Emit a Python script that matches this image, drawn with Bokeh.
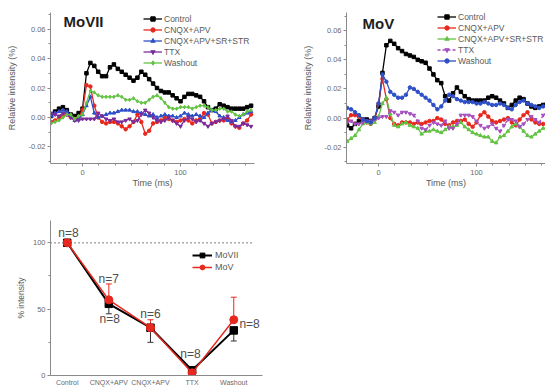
from bokeh.plotting import figure
from bokeh.models import (Legend, LegendItem, Label, Whisker, ColumnDataSource,
                          SingleIntervalTicker, FixedTicker, PrintfTickFormatter, Range1d, TeeHead)
from bokeh.layouts import row, column
from bokeh.embed import file_html
from bokeh.resources import INLINE

FONT = "Liberation Sans"

# ---------------- data ----------------
time_ms = [-32, -28, -24, -20, -16, -12, -8, -4, 0, 4, 8, 12, 16,
           20, 24, 28, 32, 36, 40, 44, 48, 52, 56, 60, 64, 68,
           72, 76, 80, 84, 88, 92, 96, 100, 104, 108, 112, 116, 120,
           124, 128, 132, 136, 140, 144, 148, 152, 156, 160, 164, 168, 172]

movii_control = [0.001, 0.004, 0.006, 0.007, 0.005, 0.002, 0.001, 0.003, 0.006, 0.030, 0.037, 0.035, 0.031,
                 0.028, 0.028, 0.034, 0.036, 0.033, 0.031, 0.029, 0.027, 0.025, 0.027, 0.031, 0.029, 0.026,
                 0.023, 0.020, 0.018, 0.017, 0.017, 0.015, 0.013, 0.011, 0.014, 0.016, 0.016, 0.015, 0.014,
                 0.011, 0.007, 0.005, 0.006, 0.009, 0.008, 0.007, 0.006, 0.006, 0.006, 0.006, 0.007, 0.008]
movii_cnqx = [-0.003, -0.002, 0.000, 0.001, 0.002, 0.000, -0.001, 0.000, 0.005, 0.022, 0.021, 0.008, 0.000,
              -0.003, -0.004, -0.003, -0.003, -0.004, -0.006, -0.008, -0.006, -0.003, 0.002, -0.003, -0.011, -0.009,
              -0.004, -0.003, -0.002, 0.000, -0.001, -0.002, -0.003, -0.002, -0.001, -0.002, -0.004, -0.002, -0.001,
              0.003, 0.002, -0.004, -0.003, -0.002, -0.002, -0.001, -0.004, -0.006, -0.007, -0.004, -0.002, 0.002]
movii_cnqx_sr = [0.001, 0.003, 0.004, 0.005, 0.004, 0.001, -0.002, -0.001, 0.002, 0.008, 0.014, 0.003, 0.000,
                 0.001, 0.002, 0.003, 0.003, 0.004, 0.005, 0.005, 0.005, 0.004, 0.004, 0.003, 0.002, 0.001,
                 0.002, 0.000, 0.001, 0.002, 0.001, 0.001, 0.000, 0.001, 0.003, 0.002, 0.001, 0.002, 0.001,
                 0.000, 0.003, 0.005, 0.004, 0.001, 0.000, -0.002, -0.003, -0.002, 0.000, 0.002, 0.003, 0.004]
movii_ttx = [0.003, 0.002, 0.001, 0.003, 0.002, 0.000, -0.002, -0.002, -0.001, -0.001, -0.001, -0.001, 0.003,
             0.001, -0.001, -0.002, -0.001, -0.003, -0.003, -0.002, -0.001, -0.003, -0.002, 0.002, 0.005, 0.003,
             0.000, -0.002, -0.003, -0.002, 0.000, -0.002, -0.004, -0.006, -0.002, 0.000, -0.001, -0.003, -0.002,
             -0.004, -0.006, -0.004, -0.003, -0.002, -0.001, 0.001, -0.002, -0.006, -0.006, -0.004, -0.005, -0.006]
movii_washout = [-0.004, -0.003, -0.002, 0.000, 0.002, 0.002, -0.001, 0.001, 0.002, 0.010, 0.018, 0.017, 0.015,
                 0.014, 0.014, 0.014, 0.014, 0.015, 0.014, 0.012, 0.012, 0.013, 0.011, 0.010, 0.010, 0.012,
                 0.014, 0.015, 0.013, 0.010, 0.007, 0.006, 0.006, 0.007, 0.007, 0.007, 0.006, 0.007, 0.008,
                 0.008, 0.007, 0.005, 0.005, 0.006, 0.006, 0.004, 0.004, 0.002, 0.001, 0.002, 0.004, 0.005]

mov_control = [-0.005, -0.007, -0.004, -0.002, -0.001, -0.001, -0.002, 0.000, 0.008, 0.031, 0.050, 0.053, 0.051,
               0.048, 0.046, 0.044, 0.043, 0.042, 0.040, 0.039, 0.038, 0.034, 0.030, 0.026, 0.024, 0.015,
               0.012, 0.017, 0.021, 0.018, 0.015, 0.013, 0.012, 0.012, 0.012, 0.012, 0.014, 0.015, 0.014,
               0.012, 0.010, 0.007, 0.009, 0.012, 0.014, 0.013, 0.010, 0.008, 0.007, 0.008, 0.009, 0.010]
mov_cnqx = [-0.001, 0.002, 0.002, 0.001, -0.001, -0.003, -0.004, -0.001, 0.010, 0.027, 0.013, 0.000, -0.004,
            -0.005, -0.003, -0.003, -0.003, -0.004, -0.003, -0.004, -0.003, -0.002, -0.002, 0.000, -0.001, -0.004,
            -0.005, -0.003, -0.002, -0.002, -0.001, -0.004, -0.006, -0.003, 0.002, 0.004, 0.001, -0.002, -0.003,
            -0.002, -0.001, 0.000, -0.003, -0.005, -0.001, 0.002, 0.004, -0.001, -0.003, -0.004, -0.004, -0.005]
mov_cnqx_sr = [-0.016, -0.014, -0.012, -0.008, -0.004, -0.003, -0.004, -0.003, 0.001, 0.010, 0.014, 0.003, -0.005,
               -0.006, -0.004, -0.003, -0.005, -0.006, -0.007, -0.011, -0.009, -0.009, -0.008, -0.009, -0.010, -0.008,
               -0.006, -0.006, -0.005, -0.003, -0.006, -0.008, -0.010, -0.011, -0.012, -0.013, -0.013, -0.016, -0.017,
               -0.013, -0.012, -0.009, -0.006, -0.004, -0.006, -0.009, -0.012, -0.013, -0.011, -0.009, -0.007, -0.007]
mov_ttx = [-0.003, -0.002, -0.004, -0.004, -0.003, -0.002, -0.002, -0.001, 0.000, 0.001, 0.001, 0.005, 0.004,
           0.002, 0.004, 0.004, 0.003, 0.002, -0.002, -0.007, -0.008, -0.005, -0.003, -0.004, -0.005, -0.002,
           -0.007, -0.007, -0.004, 0.002, 0.002, 0.002, 0.001, -0.002, -0.005, -0.007, -0.006, -0.004, -0.007,
           -0.009, -0.005, -0.001, -0.001, -0.002, -0.006, -0.004, -0.001, 0.001, -0.001, -0.003, 0.002, 0.004]
mov_washout = [0.007, 0.006, 0.004, 0.002, -0.001, -0.002, -0.003, 0.000, 0.010, 0.030, 0.025, 0.018, 0.016,
               0.014, 0.014, 0.016, 0.021, 0.020, 0.018, 0.016, 0.014, 0.012, 0.009, 0.006, 0.008, 0.012,
               0.016, 0.015, 0.013, 0.012, 0.011, 0.011, 0.011, 0.010, 0.010, 0.011, 0.010, 0.009, 0.009,
               0.010, 0.009, 0.007, 0.006, 0.009, 0.011, 0.012, 0.010, 0.009, 0.008, 0.007, 0.008, 0.009]

# summary panel
conditions = ["Control", "CNQX+APV", "CNQX+APV", "TTX", "Washout"]
cond_idx = [0, 1, 2, 3, 4]
movii_pct = [100, 54, 36, 4, 34]
movii_err = [0, 7.5, 11, 1, 8]
mov_pct = [100, 57, 36, 2, 42]
mov_err = [0, 12, 6, 1, 17]
ref_level = 100
n_labels = ["n=8", "n=7", "n=8", "n=6", "n=8", "n=8"]

# ---------------- styling helpers ----------------
AX = "#8a8a8a"
TXT = "#5a5a5a"
RED = "#e8281e"
BLUE = "#2d4fc8"
GREEN = "#62c342"
PURPLE = "#7a2c9c"
PINK = "#a54fc0"


def style_axes(p, tick_size="7.5px", label_size="9px"):
    for ax in (p.xaxis[0], p.yaxis[0]):
        ax.axis_line_color = AX
        ax.major_tick_line_color = AX
        ax.minor_tick_line_color = AX
        ax.major_label_text_font = FONT
        ax.major_label_text_font_size = tick_size
        ax.major_label_text_color = "#6a6a6a"
        ax.axis_label_text_font = FONT
        ax.axis_label_text_font_size = label_size
        ax.axis_label_text_font_style = "normal"
        ax.axis_label_text_color = TXT
        ax.major_tick_in = 0
        ax.major_tick_out = 3
        ax.minor_tick_in = 0
        ax.minor_tick_out = 2
    p.xgrid.visible = False
    p.ygrid.visible = False
    p.outline_line_color = None
    p.background_fill_color = "white"
    p.border_fill_color = "white"


def trace_panel(width, x_end, y_end, border_left, border_right, border_top,
                series, title, legend_pos):
    p = figure(width=width, height=200, output_backend="svg", toolbar_location=None,
               x_range=Range1d(-32.7, x_end), y_range=Range1d(-0.0312, y_end),
               min_border_left=border_left, min_border_right=border_right,
               min_border_top=border_top, min_border_bottom=37)
    p.xaxis.axis_label = "Time (ms)"
    p.yaxis.axis_label = "Relative intensity (%)"
    p.xaxis.ticker = SingleIntervalTicker(interval=100, num_minor_ticks=6)
    p.yaxis.ticker = SingleIntervalTicker(interval=0.02, num_minor_ticks=2)
    p.yaxis.formatter = PrintfTickFormatter(format="%.2f")
    style_axes(p)
    p.xaxis.major_label_standoff = 3
    p.xaxis.axis_label_standoff = 0
    p.yaxis.major_label_standoff = 2
    p.yaxis.axis_label_standoff = 8
    items = []
    for name, vals, color, marker, dash in series:
        ln = p.line(time_ms, vals, line_color=color, line_width=1.3, line_dash=dash)
        sc = p.scatter(time_ms, vals, marker=marker, size=3.5, fill_color=color, line_color=color)
        items.append(LegendItem(label=name, renderers=[ln, sc]))
    leg = Legend(items=items, location=legend_pos, padding=0, margin=0, spacing=0,
                 glyph_width=19, glyph_height=11, label_height=11, label_standoff=2,
                 label_text_font=FONT, label_text_font_size="8.5px", label_text_color=TXT,
                 border_line_color=None, background_fill_alpha=0)
    p.add_layout(leg, "center")
    p.add_layout(Label(x=title[1], y=0.0651, text=title[0], text_font=FONT, text_font_size="15px",
                       text_font_style="bold", text_color="#1e1e1e", text_baseline="middle",
                       text_align="left"))
    return p


p1 = trace_panel(270, 175.5, 0.0712, 50, 16, 12, [
    ("Control", movii_control, "black", "square", "solid"),
    ("CNQX+APV", movii_cnqx, RED, "circle", "solid"),
    ("CNQX+APV+SR+STR", movii_cnqx_sr, BLUE, "triangle", "solid"),
    ("TTX", movii_ttx, PURPLE, "inverted_triangle", "solid"),
    ("Washout", movii_washout, GREEN, "diamond", "solid"),
], ("MoVII", -19.4), (93, 95))

p2 = trace_panel(275, 170.4, 0.0725, 76, 0, 10, [
    ("Control", mov_control, "black", "square", "solid"),
    ("CNQX+APV", mov_cnqx, RED, "circle", "solid"),
    ("CNQX+APV+SR+STR", mov_cnqx_sr, GREEN, "triangle", "solid"),
    ("TTX", mov_ttx, PINK, "inverted_triangle", "3 2"),
    ("Washout", mov_washout, BLUE, "circle", "solid"),
], ("MoV", -16.3), (91, 97))

# ---------------- summary panel ----------------
x3_start, x3_end = -0.401, 4.69
p3 = figure(width=278, height=191, output_backend="svg", toolbar_location=None,
            x_range=Range1d(x3_start, x3_end), y_range=Range1d(0, 116.8),
            min_border_left=50, min_border_right=16, min_border_top=20, min_border_bottom=16)
style_axes(p3, tick_size="7.5px", label_size="8.5px")
p3.yaxis.axis_label = "% intensity"
p3.yaxis.ticker = SingleIntervalTicker(interval=50, num_minor_ticks=2)
p3.xaxis.ticker = FixedTicker(ticks=cond_idx)
p3.xaxis.major_label_overrides = {i: c for i, c in zip(cond_idx, conditions)}
p3.xaxis.major_label_text_font_size = "7px"
p3.xaxis.major_tick_out = 0
p3.xaxis.major_label_standoff = 3
p3.xaxis.minor_tick_line_color = None
p3.yaxis.major_label_standoff = 2
p3.yaxis.axis_label_standoff = 4

# dotted 100 % reference line, ending where the original axis ends
p3.line([x3_start, 4.473], [ref_level, ref_level], line_color="#333333", line_dash="1 3", line_width=1.2)

src_b = ColumnDataSource(dict(x=cond_idx, up=movii_pct,
                              lo=[v - e for v, e in zip(movii_pct, movii_err)]))
src_r = ColumnDataSource(dict(x=cond_idx, lo=mov_pct,
                              up=[v + e for v, e in zip(mov_pct, mov_err)]))
wb = Whisker(source=src_b, base="x", upper="up", lower="lo", line_color="#333333", line_width=1,
             upper_head=None, lower_head=TeeHead(size=6, line_color="#333333", line_width=1))
wr = Whisker(source=src_r, base="x", upper="up", lower="lo", line_color=RED, line_width=1,
             lower_head=None, upper_head=TeeHead(size=6, line_color=RED, line_width=1))
p3.add_layout(wb)
p3.add_layout(wr)

lb = p3.line(cond_idx, movii_pct, line_color="black", line_width=2)
sb = p3.scatter(cond_idx, movii_pct, marker="square", size=7.5, fill_color="black", line_color="black")
lr = p3.line(cond_idx, mov_pct, line_color=RED, line_width=1.5)
sr = p3.scatter(cond_idx, mov_pct, marker="circle", size=8, fill_color=RED, line_color=RED)

leg3 = Legend(items=[LegendItem(label="MoVII", renderers=[lb, sb]),
                     LegendItem(label="MoV", renderers=[lr, sr])],
              location=(142, 102), padding=0, margin=0, spacing=0,
              glyph_width=20, glyph_height=12, label_height=12, label_standoff=3,
              label_text_font=FONT, label_text_font_size="9px", label_text_color=TXT,
              border_line_color=None, background_fill_alpha=0)
p3.add_layout(leg3, "center")

n_pos = [(0.03, 107.7), (0.995, 72.4), (1.02, 42.3), (2.0, 46.0), (2.96, 16.0), (4.38, 38.6)]
for (x, y), t in zip(n_pos, n_labels):
    p3.add_layout(Label(x=x, y=y, text=t, text_font=FONT, text_font_size="12px",
                        text_color="#4d4d4d", text_align="center", text_baseline="middle"))

layout = column(row(p1, p2, spacing=0), p3, spacing=0)

open("out.html", "w").write(file_html(layout, INLINE))
